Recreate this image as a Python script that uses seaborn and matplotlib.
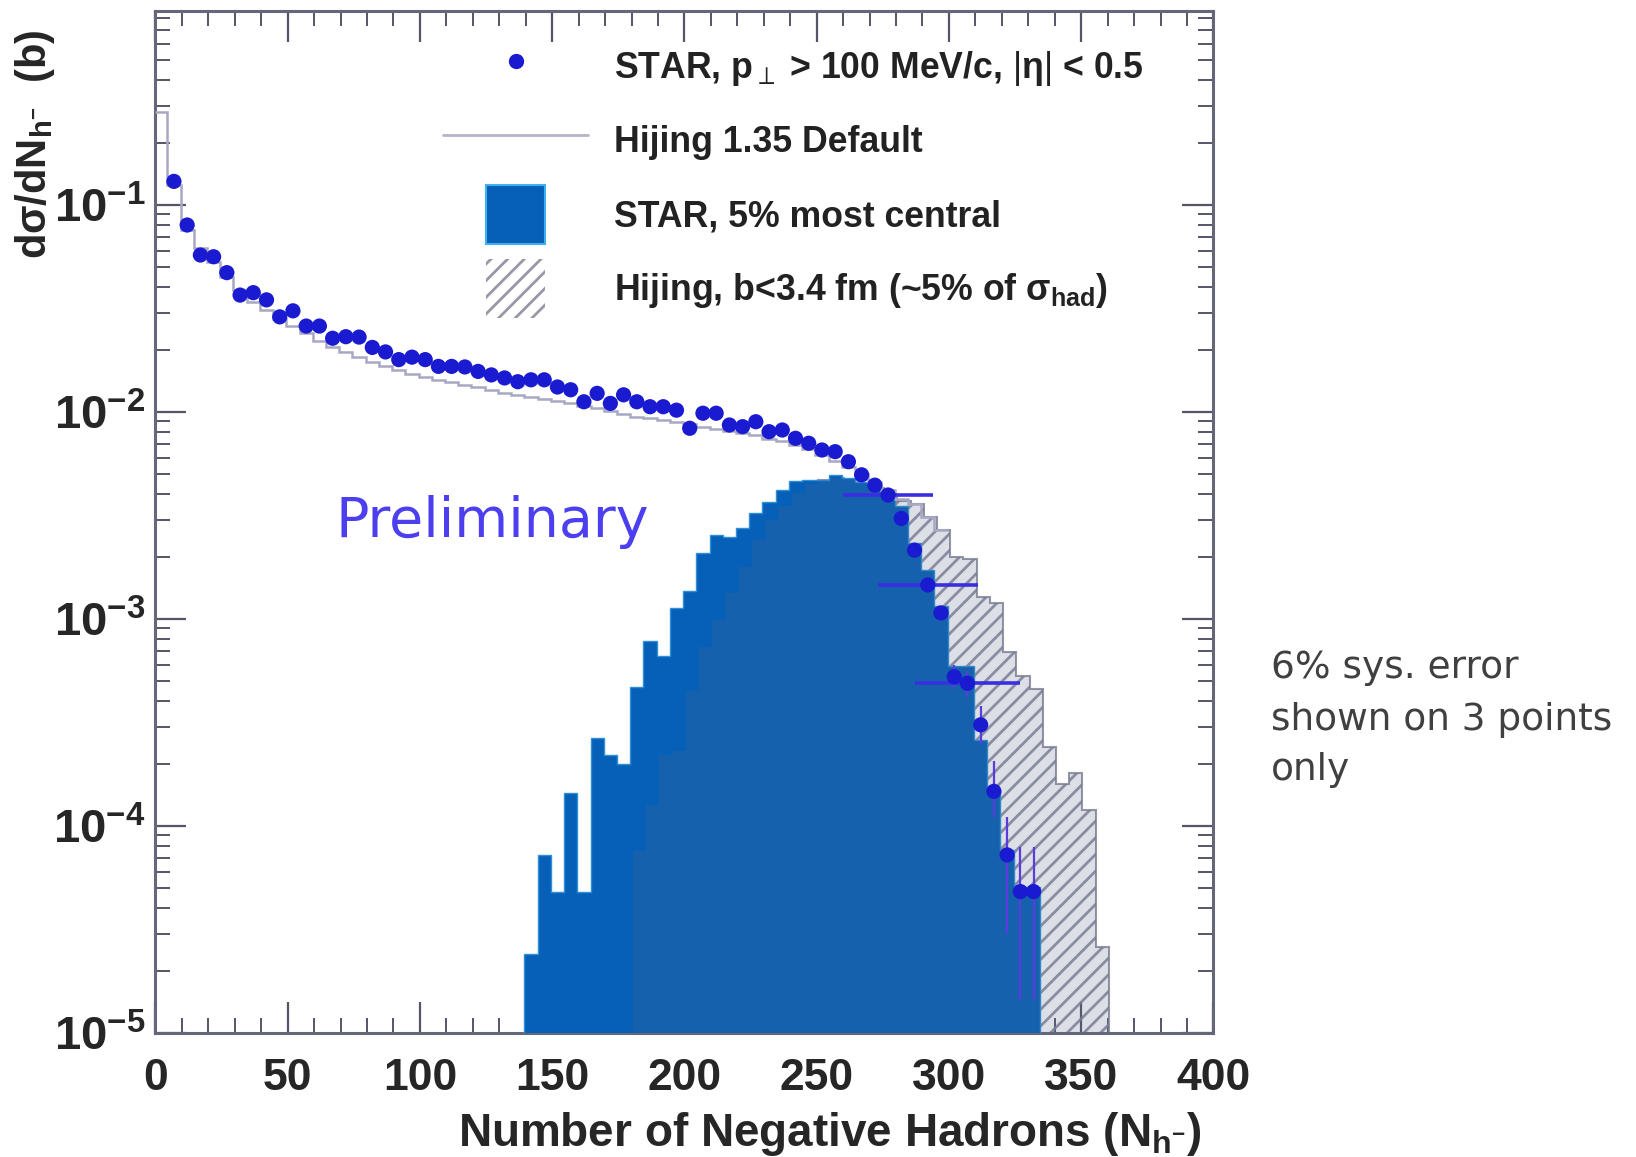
import numpy as np
import matplotlib
matplotlib.use("Agg")
import matplotlib.pyplot as plt
import matplotlib.ticker as mticker
import matplotlib.font_manager as fm
from matplotlib.lines import Line2D
from matplotlib.patches import Patch, Rectangle
from matplotlib.legend_handler import HandlerPatch
import seaborn as sns

# ---------------- data ----------------
star_n = [7, 12, 17, 22, 27, 32, 37, 42, 47, 52, 57, 62, 67, 72, 77, 82, 87, 92, 97, 102,
          107, 112, 117, 122, 127, 132, 137, 142, 147, 152, 157, 162, 167, 172, 177, 182,
          187, 192, 197, 202, 207, 212, 217, 222, 227, 232, 237, 242, 247, 252, 257, 262,
          267, 272, 277, 282, 287, 292, 297, 302, 307, 312, 317, 322, 327, 332]
star_val = [0.130, 0.080, 0.0573, 0.0562, 0.0471, 0.0367, 0.0377, 0.0348, 0.0288, 0.0308,
            0.0260, 0.0260, 0.0227, 0.0231, 0.0230, 0.0205, 0.0195, 0.0179, 0.0184, 0.0179,
            0.0166, 0.0166, 0.0165, 0.0157, 0.0151, 0.0146, 0.0140, 0.0143, 0.0143, 0.0132,
            0.0128, 0.0112, 0.0123, 0.0110, 0.0121, 0.0112, 0.0106, 0.0106, 0.0102, 0.00834,
            0.00986, 0.00986, 0.00865, 0.00849, 0.00897, 0.00803, 0.00818, 0.00746, 0.00706, 0.00655,
            0.00643, 0.00575, 0.00497, 0.00443, 0.00397, 0.00306, 0.00215, 0.00146, 0.00107, 0.000526,
            0.000489, 0.000308, 0.000147, 0.0000725, 0.0000482, 0.0000482]

# 6% systematic error shown on 3 points (horizontal bars)
sys_n = [277, 292, 307]
sys_val = [0.00397, 0.00146, 0.000489]
sys_xerr = [17, 19, 20]

# statistical (vertical) error bars on the tail points
tail_n = [302, 307, 312, 317, 322, 327, 332]
tail_val = [0.000526, 0.000489, 0.000308, 0.000147, 0.0000725, 0.0000482, 0.0000482]
tail_low = [0.00046, 0.00042, 0.00025, 0.00011, 0.000030, 0.0000144, 0.0000144]
tail_high = [0.00060, 0.00056, 0.00038, 0.000205, 0.00011, 0.000079, 0.000079]

# Hijing 1.35 default (thin line)
hij_def_val = [0.28,
               0.125, 0.076, 0.062, 0.053, 0.045, 0.039, 0.034, 0.031, 0.028, 0.026,
               0.024, 0.022, 0.0205, 0.0195, 0.0185, 0.0175, 0.0166, 0.0159, 0.0153, 0.0148,
               0.0143, 0.0139, 0.0135, 0.0132, 0.0128, 0.0124, 0.0121, 0.0118, 0.0116, 0.0113,
               0.0110, 0.0107, 0.0104, 0.0101, 0.0098, 0.0095, 0.0093, 0.0091, 0.0089, 0.0087,
               0.0085, 0.0083, 0.0081, 0.0079, 0.0077, 0.0074, 0.0072, 0.0069, 0.0066, 0.0062,
               0.0058, 0.0054, 0.0050, 0.0046, 0.0042, 0.0038, 0.0036, 0.0031, 0.0027]

# STAR 5% most central (filled histogram), bins from 139.5 in steps of 5
star_c_edges = np.arange(139.5, 335.0, 5.0)
star_c_val = [2.4e-5, 7.2e-5, 4.8e-5, 1.44e-4, 4.8e-5, 2.65e-4, 2.2e-4, 2.0e-4, 4.7e-4, 7.8e-4,
              6.6e-4, 1.13e-3, 1.37e-3, 2.08e-3, 2.55e-3, 2.5e-3, 2.74e-3, 3.24e-3, 3.69e-3, 4.2e-3,
              4.65e-3, 4.7e-3, 4.7e-3, 4.97e-3, 4.8e-3, 4.6e-3, 4.3e-3, 4.0e-3, 3.5e-3, 2.32e-3,
              1.73e-3, 1.15e-3, 5.9e-4, 5.9e-4, 2.6e-4, 1.49e-4, 7.65e-5, 5.1e-5, 5.1e-5]

# Hijing b<3.4 fm (hatched histogram), bins from 180.5 in steps of 5
hij_c_edges = np.arange(180.5, 361.0, 5.0)
hij_c_val = [7.6e-5, 1.26e-4, 2.2e-4, 2.3e-4, 4.5e-4, 7.3e-4, 9.9e-4, 1.33e-3, 1.79e-3, 2.41e-3,
             3.0e-3, 3.5e-3, 4.05e-3, 4.5e-3, 4.7e-3, 4.8e-3, 4.7e-3, 4.5e-3, 4.3e-3, 4.0e-3,
             3.7e-3, 3.6e-3, 3.1e-3, 2.7e-3, 2.0e-3, 1.95e-3, 1.28e-3, 1.19e-3, 6.9e-4, 5.3e-4,
             4.6e-4, 2.4e-4, 1.6e-4, 1.8e-4, 1.2e-4, 2.6e-5]

x_ticks = [0, 50, 100, 150, 200, 250, 300, 350, 400]

# ---------------- style ----------------
sns.set_theme(style="ticks")
names = {f.name for f in fm.fontManager.ttflist}
SANS = "Liberation Sans" if "Liberation Sans" in names else "DejaVu Sans"
plt.rcParams["font.family"] = [SANS, "DejaVu Sans"]
plt.rcParams["mathtext.fontset"] = "custom"
plt.rcParams["mathtext.rm"] = SANS
plt.rcParams["mathtext.bf"] = SANS + ":bold"
plt.rcParams["mathtext.it"] = SANS + ":italic"
plt.rcParams["mathtext.sf"] = SANS
plt.rcParams["mathtext.fallback"] = "stixsans"
plt.rcParams["hatch.linewidth"] = 2.0

BLUE_FILL = "#0660b8"
PT_BLUE = "#1a1ad0"
HATCH_GRAY = (0.52, 0.52, 0.60, 0.85)
AX_GRAY = "#66667a"

fig = plt.figure(figsize=(16.36, 11.57), dpi=100)
ax = fig.add_axes([0.0950, 0.1072, 0.6467, 0.8833])
ax.set_facecolor("white")

# Hijing central hatched histogram (below the STAR fill)
ax.stairs(hij_c_val, hij_c_edges, fill=True, baseline=1e-7,
          facecolor="none", edgecolor=HATCH_GRAY, hatch="//", linewidth=1.5, zorder=2)
# STAR central filled histogram
ax.stairs(star_c_val, star_c_edges, fill=True, baseline=1e-7,
          facecolor=BLUE_FILL, edgecolor="#2f8fd8", linewidth=1.0, zorder=3)
# Hijing central: grey veil over the overlap region
ax.stairs(hij_c_val, hij_c_edges, fill=True, baseline=1e-7,
          facecolor=(0.32, 0.40, 0.52, 0.20), edgecolor="none", linewidth=0, zorder=3.5)
# Hijing default thin line
hij_def_edges = [0.0] + [n - 2.5 for n in star_n[:len(hij_def_val) - 1]] + [star_n[len(hij_def_val) - 2] + 2.5]
ax.stairs(hij_def_val, hij_def_edges, baseline=None, color="#a8a8c4", linewidth=1.8, zorder=4)

# error bars
ax.errorbar(tail_n, tail_val,
            yerr=[np.array(tail_val) - np.array(tail_low), np.array(tail_high) - np.array(tail_val)],
            fmt="none", ecolor="#5a3cdc", elinewidth=1.6, zorder=5)
ax.errorbar(sys_n, sys_val, xerr=sys_xerr, fmt="none", ecolor="#3a2ee0", elinewidth=2.6, zorder=5)

# STAR points
sns.scatterplot(x=star_n, y=star_val, ax=ax, s=120, color=PT_BLUE, edgecolor="none",
                legend=False, zorder=6)

# axes
ax.set_yscale("log")
ax.set_xlim(0, 400)
ax.set_ylim(1e-5, 0.865)
ax.xaxis.set_major_locator(mticker.FixedLocator(x_ticks))
ax.xaxis.set_minor_locator(mticker.MultipleLocator(10))
ax.yaxis.set_major_locator(mticker.LogLocator(base=10, numticks=10))
ax.yaxis.set_minor_locator(mticker.LogLocator(base=10, subs=np.arange(2, 10), numticks=20))
ax.yaxis.set_minor_formatter(mticker.NullFormatter())
ax.yaxis.set_major_formatter(mticker.FuncFormatter(
    lambda v, p: r"$\mathbf{10^{%d}}$" % int(round(np.log10(v)))))
ax.xaxis.set_major_formatter(mticker.FuncFormatter(lambda v, p: "%d" % v))

ax.tick_params(which="both", direction="in", top=True, right=True, color="#55556a")
ax.tick_params(which="major", length=22, width=1.6)
ax.tick_params(which="minor", length=11, width=1.4)
ax.tick_params(axis="x", which="major", pad=18, labelsize=32)
ax.tick_params(axis="y", which="major", pad=7, labelsize=34)
for lab in ax.get_xticklabels():
    lab.set_fontweight("bold")
for s in ax.spines.values():
    s.set_color(AX_GRAY)
    s.set_linewidth(2.2)

ax.set_xlabel(r"Number of Negative Hadrons (N$_{\mathbf{h^{-}}}$)", fontsize=33, fontweight="bold")
ax.xaxis.set_label_coords(0.638, -0.075)
ax.set_ylabel(r"$\mathbf{d\sigma/dN_{h^{-}}}$  (b)", fontsize=30, fontweight="bold")
ax.yaxis.set_label_coords(-0.0927, 0.870)

# Preliminary
ax.text(68, 2.95e-3, "Preliminary", fontsize=40, color="#4b3ff0",
        family="DejaVu Sans", va="center", ha="left", zorder=7)

# legend
def square_patch(legend, orig_handle, xdescent, ydescent, width, height, fontsize):
    side = 1.35 * height
    cx = -xdescent + width / 2.0
    cy = -ydescent + height / 2.0
    return Rectangle((cx - side / 2.0, cy - side / 2.0), side, side)

handles = [
    Line2D([], [], marker="o", ls="none", color=PT_BLUE, markersize=10),
    Line2D([], [], color="#b4b4cc", lw=2.0),
    Patch(facecolor=BLUE_FILL, edgecolor="#40b0f0", lw=1.5),
    Patch(facecolor="white", edgecolor=HATCH_GRAY, hatch="//", lw=0),
]
labels = [
    r"STAR, $\mathbf{p}_{\perp}$ > 100 MeV/c, $|\mathbf{\eta}|$ < 0.5",
    "Hijing 1.35 Default",
    "STAR, 5% most central",
    r"Hijing, b<3.4 fm (~5% of $\mathbf{\sigma_{had}}$)",
]
leg = ax.legend(handles, labels, loc="upper left", bbox_to_anchor=(0.271, 0.962),
                bbox_transform=fig.transFigure, frameon=False,
                prop={"family": [SANS, "DejaVu Sans"], "weight": "bold", "size": 25.7},
                handlelength=4.05, handleheight=1.5, handletextpad=0.72,
                labelspacing=0.86, borderpad=0, borderaxespad=0,
                handler_map={Patch: HandlerPatch(patch_func=square_patch)})
for t in leg.get_texts():
    t.set_color("#222222")

# side note
note_lines = ["6% sys. error", "shown on 3 points", "only"]
note_y = [0.4227, 0.3777, 0.3345]
for txt, yy in zip(note_lines, note_y):
    fig.text(0.777, yy, txt, fontsize=27, color="#404040", family="DejaVu Sans",
             ha="left", va="center")

fig.savefig("out.png", dpi=100)
